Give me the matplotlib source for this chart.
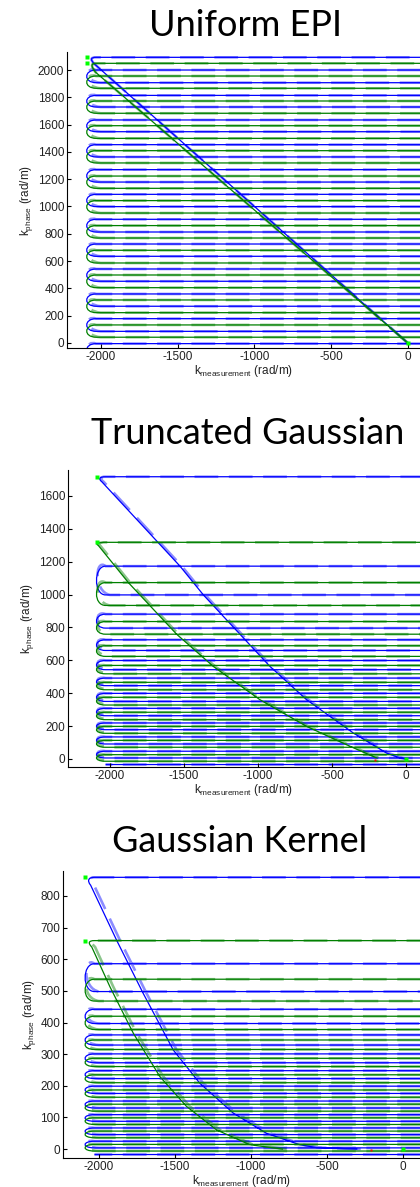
import matplotlib.pyplot as plt
from matplotlib.path import Path
from matplotlib.patches import PathPatch

plt.rcParams['font.family'] = ['Liberation Sans', 'DejaVu Sans']
plt.rcParams['mathtext.fontset'] = 'custom'
plt.rcParams['mathtext.rm'] = 'Liberation Sans'
plt.rcParams['mathtext.it'] = 'Liberation Sans'
plt.rcParams['axes.unicode_minus'] = False

titles = ["Uniform EPI", "Truncated Gaussian", "Gaussian Kernel"]

# k_phase of each readout line (rad/m), top to bottom
uniform_blue_rows = [2093, 2000, 1907, 1814, 1729, 1634, 1548, 1453, 1363, 1270, 1179, 1089,
                     999, 906, 813, 725, 635, 542, 452, 359, 269, 178, 85, -5, -96]
uniform_green_rows = [2049, 1956, 1866, 1773, 1683, 1592, 1499, 1409, 1319, 1223, 1133, 1043,
                      952, 860, 769, 679, 586, 498, 405, 315, 222, 132, 42, -48]
trunc_blue_rows = [1717, 1173, 998, 881, 796, 725, 660, 599, 543, 492, 446, 399, 350, 308,
                   263, 219, 178, 134, 91, 47, 6, -34]
trunc_green_rows = [1318, 1073, 934, 836, 759, 689, 624, 569, 518, 466, 421, 375, 328, 284,
                    239, 198, 156, 113, 71, 26, -14]
kernel_blue_rows = [859, 586, 498, 442, 397, 361, 329, 301, 273, 248, 223, 199, 176, 152,
                    130, 109, 88, 67, 46, 25, 4, -17]
kernel_green_rows = [659, 537, 468, 420, 378, 345, 315, 287, 261, 235, 210, 187, 164, 142,
                     120, 99, 78, 57, 36, 15, -6]

# ramp from the centre of k-space up to the first line (end -> top)
uniform_blue_ramp_x = [0, -2042]
uniform_blue_ramp_y = [0, 2045]
uniform_green_ramp_x = [0, -2035]
uniform_green_ramp_y = [0, 1985]
trunc_blue_ramp_x = [0, -40, -131, -356, -671, -919, -1122, -1369, -1527, -2056]
trunc_blue_ramp_y = [0, 6, 36, 158, 360, 563, 759, 998, 1173, 1687]
trunc_green_ramp_x = [-198, -378, -671, -986, -1302, -1550, -1876, -2080]
trunc_green_ramp_y = [6, 77, 198, 360, 563, 759, 1073, 1300]
kernel_blue_ramp_x = [-300, -570, -679, -898, -1117, -1336, -1511, -1709, -1884, -2055]
kernel_blue_ramp_y = [0, 5, 14, 50, 114, 208, 313, 492, 660, 834]
kernel_green_ramp_x = [-789, -1008, -1227, -1424, -1599, -1774, -1928, -2048]
kernel_green_ramp_y = [0, 14, 61, 135, 229, 366, 513, 639]

start_x = -2090
red_dot = (-210, -4)

panels = [
    dict(rows=(uniform_blue_rows, uniform_green_rows),
         ramps=((uniform_blue_ramp_x, uniform_blue_ramp_y), (uniform_green_ramp_x, uniform_green_ramp_y)),
         rect=[67 / 420, 1 - 348 / 1187, 353 / 420, 296 / 1187],
         xlim=(-2220, 80), ylim=(-37, 2132), yticks=range(0, 2001, 200),
         title_xy=(245 / 420, 1 - 26 / 1187), red=False, dash_dx=0),
    dict(rows=(trunc_blue_rows, trunc_green_rows),
         ramps=((trunc_blue_ramp_x, trunc_blue_ramp_y), (trunc_green_ramp_x, trunc_green_ramp_y)),
         rect=[68 / 420, 1 - 767 / 1187, 352 / 420, 297 / 1187],
         xlim=(-2284, 95), ylim=(-49, 1758), yticks=range(0, 1601, 200),
         title_xy=(248 / 420, 1 - 434 / 1187), red=True, dash_dx=12),
    dict(rows=(kernel_blue_rows, kernel_green_rows),
         ramps=((kernel_blue_ramp_x, kernel_blue_ramp_y), (kernel_green_ramp_x, kernel_green_ramp_y)),
         rect=[63 / 420, 1 - 1158 / 1187, 357 / 420, 287 / 1187],
         xlim=(-2237, 112), ylim=(-28, 879), yticks=range(0, 801, 100),
         title_xy=(240 / 420, 1 - 841 / 1187), red=True, dash_dx=22),
]


def trajectory(rows, ramp_x, ramp_y, dashed=False):
    x_left, x_right, x_turn = -2030, 400, -2112
    verts = [(x, y) for x, y in zip(ramp_x, ramp_y)]
    codes = [Path.MOVETO] + [Path.LINETO] * (len(verts) - 1)
    xt, yt = verts[-1]
    verts += [(xt - 25, yt + 0.6 * (rows[0] - yt)), (x_left - 40, rows[0]), (x_left, rows[0])]
    codes += [Path.CURVE4] * 3
    for i, y in enumerate(rows):
        going_right = i % 2 == 0
        verts.append((x_right if going_right else x_left, y))
        codes.append(Path.LINETO)
        if i + 1 < len(rows):
            yn = rows[i + 1]
            gap = y - yn
            if going_right:
                verts += [(x_right + 150, y), (x_right + 150, yn), (x_right, yn)]
            elif dashed:
                verts += [(x_turn + 10, y + 0.3 * gap), (x_turn, yn + 0.1 * gap), (x_left + 30, yn)]
            else:
                verts += [(x_turn, y), (x_turn, yn), (x_left, yn)]
            codes += [Path.CURVE4] * 3
    return Path(verts, codes)


fig = plt.figure(figsize=(4.2, 11.87), dpi=100)

for k, p in enumerate(panels):
    ax = fig.add_axes(p['rect'])
    for rows, (rx, ry), col in zip(p['rows'], p['ramps'], ['#0000ff', '#008000']):
        dx = [x + p['dash_dx'] for x in rx]
        ax.add_patch(PathPatch(trajectory(rows, dx, ry, dashed=True), fill=False,
                               edgecolor=col, alpha=0.45, lw=1.9, linestyle=(0, (9, 4))))
        ax.add_patch(PathPatch(trajectory(rows, rx, ry), fill=False, edgecolor=col, lw=0.9))
        ax.plot([start_x], [rows[0]], 's', color='#00ff00', ms=2.4, mec='none')
    ax.plot([0], [0], 's', color='#00ff00', ms=2.4, mec='none')
    if p['red']:
        ax.plot([red_dot[0]], [red_dot[1]], 's', color='#ff0000', ms=1.6, mec='none')

    ax.set_xlim(*p['xlim'])
    ax.set_ylim(*p['ylim'])
    ax.set_xticks([-2000, -1500, -1000, -500, 0])
    ax.set_yticks(list(p['yticks']))
    ax.tick_params(direction='in', length=3, width=0.8, labelsize=8.5, pad=2,
                   labelcolor='#222222')
    for s in ['top', 'right']:
        ax.spines[s].set_visible(False)
    ax.set_xlabel(r'k$_{\rm measurement}$ (rad/m)', fontsize=8.5, labelpad=0, color='#222222')
    ax.set_ylabel(r'k$_{\rm phase}$ (rad/m)', fontsize=8.5, labelpad=2, color='#222222')
    fig.text(p['title_xy'][0], p['title_xy'][1], titles[k],
             family=['Lato', 'DejaVu Sans'], fontsize=26, ha='center', va='center')

fig.savefig('out.png', dpi=100)
